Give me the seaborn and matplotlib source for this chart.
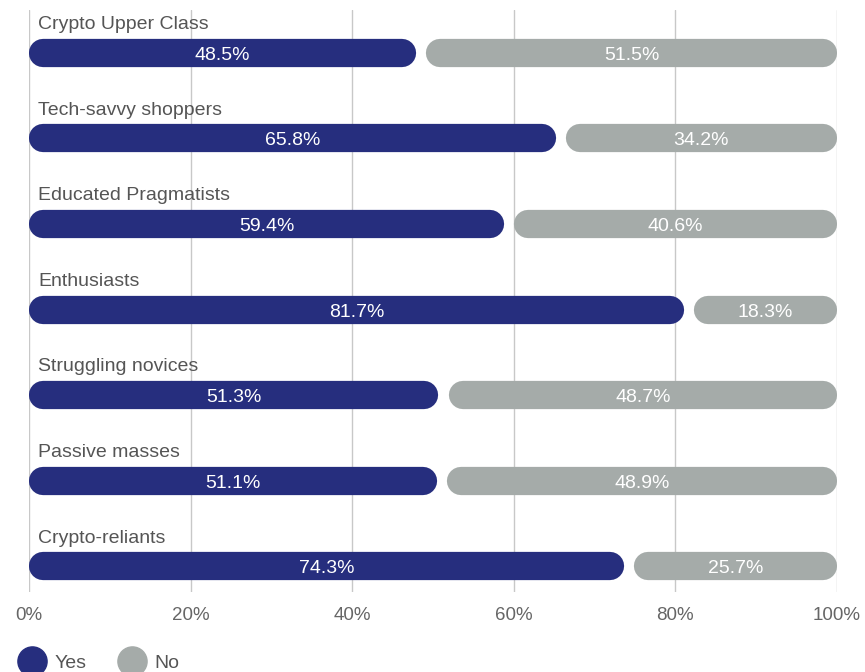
import matplotlib
matplotlib.use("Agg")
import matplotlib.pyplot as plt
import seaborn as sns
import pandas as pd
from matplotlib.lines import Line2D

categories = ["Crypto Upper Class", "Tech-savvy shoppers", "Educated Pragmatists",
              "Enthusiasts", "Struggling novices", "Passive masses", "Crypto-reliants"]
yes = [48.5, 65.8, 59.4, 81.7, 51.3, 51.1, 74.3]
no = [51.5, 34.2, 40.6, 18.3, 48.7, 48.9, 25.7]
xticks = [0, 20, 40, 60, 80, 100]
xticklabels = ["0%", "20%", "40%", "60%", "80%", "100%"]
legend_labels = ["Yes", "No"]

BLUE = "#262E7E"
GRAY = "#A5ABA9"
LABEL_COLOR = "#555555"
TICK_COLOR = "#666666"

sns.set_theme(style="white")
plt.rcParams["font.family"] = ["Liberation Sans", "DejaVu Sans"]

W, H = 865, 672
fig = plt.figure(figsize=(W / 100, H / 100), dpi=100)
ax = fig.add_axes([29 / W, 1 - 592 / H, (837 - 29) / W, (592 - 10) / H])

df = pd.DataFrame({"cat": categories, "yes": yes, "no": no})
df["total"] = df["yes"] + df["no"]

bar_w = 0.33
sns.barplot(data=df, x="total", y="cat", orient="h", color=GRAY, width=bar_w,
            saturation=1, errorbar=None, ax=ax)
n_no = len(ax.patches)
sns.barplot(data=df, x="yes", y="cat", orient="h", color=BLUE, width=bar_w,
            saturation=1, errorbar=None, ax=ax)

ax.set_xlim(0, 100)
ax.set_ylim(6.3, -0.5)

# pixel scale for pill-shaped bars
p0 = ax.transData.transform((0, 0))
p1 = ax.transData.transform((1, 1))
xpx = abs(p1[0] - p0[0])
ypx = abs(p1[1] - p0[1])
gap = 5.0 / xpx
text_dy = 2.5 / ypx

patches = list(ax.patches)
for k, p in enumerate(patches):
    y0, h = p.get_y(), p.get_height()
    i = int(round(y0 + h / 2))
    v = yes[i]
    if k < n_no:
        x0, w, fc = v + gap, df["total"][i] - v - gap, GRAY
        label = f"{no[i]}%"
    else:
        x0, w, fc = 0, v - gap, BLUE
        label = f"{yes[i]}%"
    p.remove()
    hpx = h * ypx
    r = (hpx / 2) / xpx
    lw_pt = hpx * 72 / fig.dpi
    ax.plot([x0 + r, x0 + w - r], [i, i], color=fc, lw=lw_pt,
            solid_capstyle="round", zorder=2)
    ax.text(x0 + w / 2, i + text_dy, label, ha="center", va="center", color="white",
            fontsize=14, zorder=3)

for i, c in enumerate(categories):
    ax.text(1.1, i - 0.33, c, ha="left", va="center", fontsize=14,
            color=LABEL_COLOR, zorder=3)

ax.set_xlabel("")
ax.set_ylabel("")
ax.set_yticks([])
ax.set_xticks(xticks)
ax.set_xticklabels(xticklabels)
ax.tick_params(axis="x", length=0, pad=11, labelsize=13.5, labelcolor=TICK_COLOR)
ax.grid(axis="x", color="#C8C8C8", lw=1)
ax.set_axisbelow(True)
for s in ax.spines.values():
    s.set_visible(False)

handles = [Line2D([], [], marker="o", color=BLUE, linestyle="", markersize=21),
           Line2D([], [], marker="o", color=GRAY, linestyle="", markersize=21)]
leg = fig.legend(handles, legend_labels, loc="center left",
                 bbox_to_anchor=(20.3 / W, 9 / H), ncol=2, frameon=False,
                 fontsize=14, handlelength=1.2, handletextpad=0.58,
                 columnspacing=1.71, borderpad=0, borderaxespad=0)
for t in leg.get_texts():
    t.set_color(LABEL_COLOR)

fig.savefig("out.png", dpi=100)
